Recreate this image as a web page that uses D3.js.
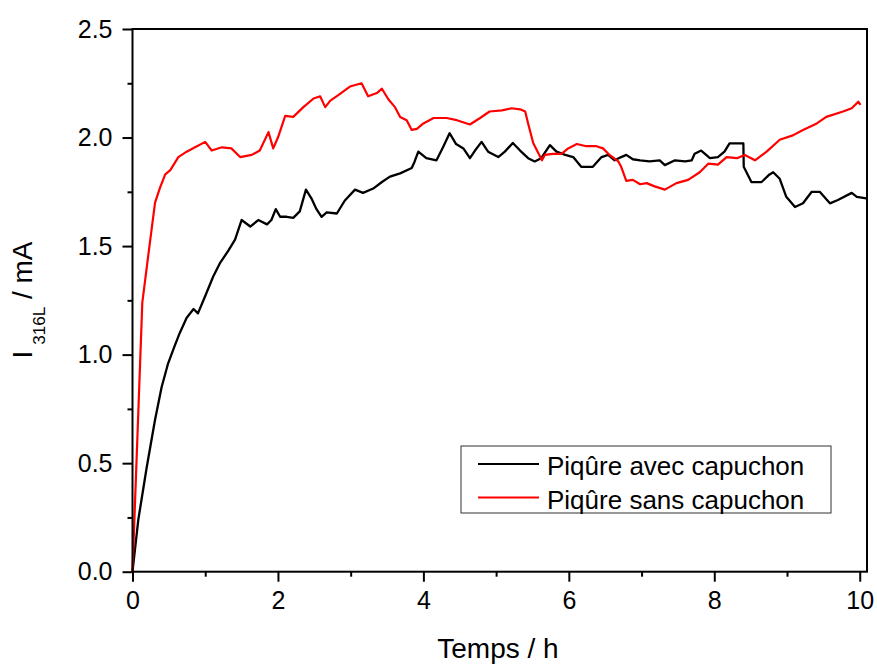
<!DOCTYPE html>
<html>
<head>
<meta charset="utf-8">
<script src="https://cdn.jsdelivr.net/npm/d3@7"></script>
<style>
  body { margin: 0; background: #fff; }
  text { font-family: Arial, "Liberation Sans", sans-serif; fill: #000; }
</style>
</head>
<body>
<div id="chart"></div>
<script>
// Piqûre avec capuchon (black)
const tempsAvec = [0, 0.08, 0.195, 0.31, 0.40, 0.49, 0.58, 0.65, 0.745, 0.84, 0.90, 1.00, 1.11, 1.20, 1.32, 1.41, 1.50, 1.62, 1.73, 1.85, 1.91, 1.97, 2.03, 2.12, 2.21, 2.30, 2.385, 2.46, 2.53, 2.60, 2.67, 2.81, 2.92, 3.06, 3.17, 3.31, 3.43, 3.54, 3.68, 3.84, 3.88, 3.93, 4.04, 4.18, 4.27, 4.36, 4.45, 4.55, 4.64, 4.71, 4.80, 4.89, 5.03, 5.12, 5.23, 5.33, 5.44, 5.53, 5.62, 5.74, 5.83, 5.95, 6.06, 6.17, 6.33, 6.45, 6.54, 6.63, 6.72, 6.79, 6.88, 6.98, 7.11, 7.25, 7.32, 7.46, 7.60, 7.69, 7.73, 7.82, 7.94, 8.05, 8.14, 8.21, 8.40, 8.405, 8.51, 8.65, 8.76, 8.81, 8.90, 8.99, 9.11, 9.22, 9.34, 9.45, 9.59, 9.70, 9.89, 9.96, 10.09];
const courantAvec = [0, 0.24, 0.48, 0.70, 0.85, 0.96, 1.04, 1.10, 1.17, 1.21, 1.19, 1.27, 1.36, 1.42, 1.48, 1.53, 1.62, 1.59, 1.62, 1.60, 1.62, 1.67, 1.635, 1.635, 1.63, 1.66, 1.76, 1.72, 1.67, 1.635, 1.655, 1.65, 1.71, 1.76, 1.745, 1.765, 1.795, 1.82, 1.835, 1.86, 1.89, 1.935, 1.905, 1.895, 1.955, 2.02, 1.97, 1.95, 1.905, 1.94, 1.98, 1.935, 1.91, 1.935, 1.975, 1.94, 1.905, 1.89, 1.905, 1.965, 1.935, 1.92, 1.91, 1.865, 1.865, 1.91, 1.92, 1.895, 1.91, 1.92, 1.90, 1.895, 1.89, 1.895, 1.873, 1.895, 1.89, 1.895, 1.925, 1.94, 1.905, 1.91, 1.935, 1.973, 1.973, 1.865, 1.795, 1.795, 1.83, 1.84, 1.81, 1.727, 1.68, 1.697, 1.75, 1.75, 1.697, 1.712, 1.745, 1.727, 1.72];

// Piqûre sans capuchon (red)
const tempsSans = [0, 0.135, 0.195, 0.26, 0.31, 0.38, 0.45, 0.52, 0.63, 0.745, 0.86, 1.00, 1.09, 1.23, 1.36, 1.48, 1.64, 1.75, 1.87, 1.935, 2.00, 2.10, 2.21, 2.35, 2.49, 2.58, 2.65, 2.72, 2.83, 2.99, 3.15, 3.24, 3.36, 3.43, 3.52, 3.61, 3.68, 3.77, 3.84, 3.91, 4.00, 4.14, 4.32, 4.46, 4.64, 4.78, 4.91, 5.08, 5.21, 5.33, 5.40, 5.44, 5.51, 5.63, 5.67, 5.78, 5.90, 5.99, 6.11, 6.24, 6.38, 6.47, 6.56, 6.68, 6.72, 6.79, 6.88, 6.98, 7.07, 7.18, 7.32, 7.48, 7.64, 7.80, 7.92, 8.05, 8.17, 8.31, 8.42, 8.56, 8.72, 8.90, 9.08, 9.22, 9.41, 9.54, 9.77, 9.89, 9.98, 10.01];
const courantSans = [0, 1.24, 1.40, 1.57, 1.70, 1.77, 1.83, 1.85, 1.91, 1.935, 1.955, 1.98, 1.94, 1.955, 1.95, 1.91, 1.92, 1.94, 2.025, 1.95, 2.00, 2.10, 2.095, 2.14, 2.18, 2.19, 2.14, 2.17, 2.195, 2.235, 2.25, 2.19, 2.205, 2.225, 2.175, 2.14, 2.095, 2.08, 2.035, 2.04, 2.065, 2.09, 2.09, 2.08, 2.06, 2.09, 2.12, 2.125, 2.135, 2.13, 2.12, 2.065, 1.975, 1.895, 1.92, 1.925, 1.925, 1.95, 1.97, 1.96, 1.96, 1.95, 1.92, 1.89, 1.865, 1.80, 1.805, 1.785, 1.79, 1.775, 1.76, 1.79, 1.805, 1.84, 1.88, 1.875, 1.91, 1.905, 1.92, 1.895, 1.935, 1.99, 2.01, 2.035, 2.065, 2.095, 2.12, 2.135, 2.165, 2.15];

const xTicks = [0, 2, 4, 6, 8, 10];
const xMinor = [1, 3, 5, 7, 9];
const yTicks = [0, 0.5, 1.0, 1.5, 2.0, 2.5];
const yMinor = [0.25, 0.75, 1.25, 1.75, 2.25];
const seriesNames = ['Piqûre avec capuchon', 'Piqûre sans capuchon'];
const seriesColors = ['#000000', '#ff0000'];

const W = 877, H = 664;
const margin = {left: 132.5, top: 29, right: 10, bottom: 92.3};
const iw = W - margin.left - margin.right;
const ih = H - margin.top - margin.bottom;

const svg = d3.select('#chart').append('svg')
    .attr('width', W)
    .attr('height', H);

const g = svg.append('g')
    .attr('transform', `translate(${margin.left},${margin.top})`);

const x = d3.scaleLinear().domain([0, 10.1]).range([0, iw]);
const y = d3.scaleLinear().domain([0, 2.5]).range([ih, 0]);

// minor ticks
g.append('g')
    .attr('transform', `translate(0,${ih})`)
    .call(d3.axisBottom(x).tickValues(xMinor).tickSize(5).tickFormat(''))
    .call(s => s.select('.domain').remove())
    .call(s => s.selectAll('line').attr('stroke-width', 2));
g.append('g')
    .call(d3.axisLeft(y).tickValues(yMinor).tickSize(5).tickFormat(''))
    .call(s => s.select('.domain').remove())
    .call(s => s.selectAll('line').attr('stroke-width', 2));

// major ticks
const xAxis = g.append('g')
    .attr('transform', `translate(0,${ih})`)
    .call(d3.axisBottom(x).tickValues(xTicks).tickSize(10).tickPadding(10).tickFormat(d3.format('d')));
xAxis.select('.domain').remove();
xAxis.selectAll('line').attr('stroke-width', 2);
xAxis.selectAll('text').attr('font-size', 25).attr('font-family', 'Arial, "Liberation Sans", sans-serif');

const yAxis = g.append('g')
    .call(d3.axisLeft(y).tickValues(yTicks).tickSize(10).tickPadding(10).tickFormat(d3.format('.1f')));
yAxis.select('.domain').remove();
yAxis.selectAll('line').attr('stroke-width', 2);
yAxis.selectAll('text').attr('font-size', 25).attr('font-family', 'Arial, "Liberation Sans", sans-serif');

// curves
const line = d3.line()
    .x(d => x(d[0]))
    .y(d => y(d[1]));

const dataAvec = tempsAvec.map((t, i) => [t, courantAvec[i]]);
const dataSans = tempsSans.map((t, i) => [t, courantSans[i]]);

g.append('path')
    .datum(dataAvec)
    .attr('fill', 'none')
    .attr('stroke', seriesColors[0])
    .attr('stroke-width', 2.3)
    .attr('stroke-linejoin', 'round')
    .attr('d', line);

g.append('path')
    .datum(dataSans)
    .attr('fill', 'none')
    .attr('stroke', seriesColors[1])
    .attr('stroke-width', 2.2)
    .attr('stroke-linejoin', 'round')
    .attr('d', line);

// frame
g.append('rect')
    .attr('x', 0).attr('y', 0)
    .attr('width', iw).attr('height', ih)
    .attr('fill', 'none')
    .attr('stroke', '#000')
    .attr('stroke-width', 2);

// axis titles
svg.append('text')
    .attr('x', 498)
    .attr('y', 658)
    .attr('text-anchor', 'middle')
    .attr('font-size', 28)
    .text('Temps / h');

const yt = svg.append('text')
    .attr('transform', 'translate(32,300) rotate(-90)')
    .attr('text-anchor', 'middle')
    .attr('font-size', 28);
yt.append('tspan').text('I');
yt.append('tspan').attr('font-size', 17).attr('dx', 6).attr('dy', 13).text('316L');
yt.append('tspan').attr('dy', -13).text(' / mA');

// legend
const legend = svg.append('g').attr('transform', 'translate(461,446)');
legend.append('rect')
    .attr('width', 370).attr('height', 67)
    .attr('fill', '#fff')
    .attr('stroke', '#333')
    .attr('stroke-width', 1);

seriesNames.forEach((name, i) => {
    const row = legend.append('g').attr('transform', `translate(0,${18 + i * 33.5})`);
    row.append('line')
        .attr('x1', 17).attr('x2', 78)
        .attr('stroke', seriesColors[i])
        .attr('stroke-width', 2);
    row.append('text')
        .attr('x', 86)
        .attr('y', 11)
        .attr('font-size', 26)
        .text(name);
});
</script>
</body>
</html>
